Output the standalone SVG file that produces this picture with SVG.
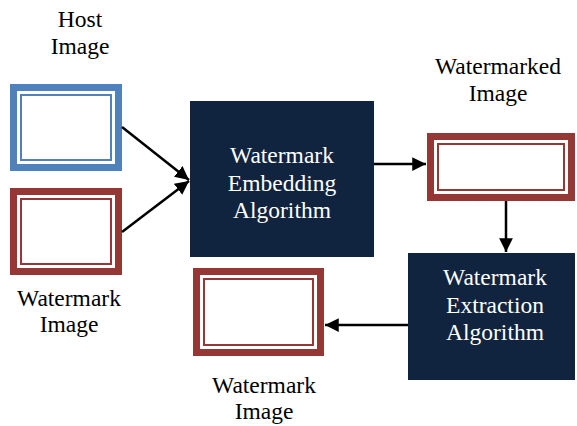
<svg xmlns="http://www.w3.org/2000/svg" width="577" height="426" viewBox="0 0 577 426">
  <defs>
    <marker id="arrow" viewBox="0 0 10 10" refX="10" refY="5" markerWidth="5.5" markerHeight="5.5" orient="auto" markerUnits="strokeWidth">
      <path d="M0,0 L10,5 L0,10 z" fill="#000"/>
    </marker>
  </defs>
  <style>
    text { font-family: 'Liberation Serif', 'Times New Roman', Tinos, 'DejaVu Serif', serif; font-size: 23.5px; text-anchor: middle; }
    .lbl { fill: #000; }
    .alg { fill: #fff; }
    .alg-box { fill: #10243f; }
    .blue { fill: #4f81bd; }
    .red { fill: #953735; }
    .gap { fill: #fff; }
    .inner-blue { fill: #fff; stroke: #4f81bd; stroke-width: 2; }
    .inner-red { fill: #fff; stroke: #953735; stroke-width: 2; }
    .conn { stroke: #000; stroke-width: 2.5; fill: none; marker-end: url(#arrow); }
  </style>

  <!-- Host image -->
  <g id="host-image">
    <rect class="blue" x="10" y="84" width="112" height="87"/>
    <rect class="gap" x="17" y="91" width="98" height="73"/>
    <rect class="inner-blue" x="21" y="95" width="90" height="65"/>
    <text class="lbl" x="80" y="27">Host</text>
    <text class="lbl" x="80" y="54">Image</text>
  </g>

  <!-- Watermark image (input) -->
  <g id="watermark-image-in">
    <rect class="red" x="10" y="188" width="112" height="87"/>
    <rect class="gap" x="17" y="195" width="98" height="73"/>
    <rect class="inner-red" x="21" y="199" width="90" height="65"/>
    <text class="lbl" x="69" y="306">Watermark</text>
    <text class="lbl" x="69" y="332">Image</text>
  </g>

  <!-- Embedding algorithm -->
  <g id="embedding">
    <rect class="alg-box" x="190" y="101" width="184" height="156"/>
    <text class="alg" x="282" y="163">Watermark</text>
    <text class="alg" x="282" y="190.5">Embedding</text>
    <text class="alg" x="282" y="218">Algorithm</text>
  </g>

  <!-- Watermarked image -->
  <g id="watermarked-image">
    <rect class="red" x="427" y="133" width="148" height="68"/>
    <rect class="gap" x="434" y="140" width="134" height="54"/>
    <rect class="inner-red" x="438" y="144" width="126" height="46"/>
    <text class="lbl" x="498" y="74">Watermarked</text>
    <text class="lbl" x="498" y="101">Image</text>
  </g>

  <!-- Extraction algorithm -->
  <g id="extraction">
    <rect class="alg-box" x="408" y="253" width="167" height="127"/>
    <text class="alg" x="495" y="285">Watermark</text>
    <text class="alg" x="495" y="312.5">Extraction</text>
    <text class="alg" x="495" y="340">Algorithm</text>
  </g>

  <!-- Watermark image (output) -->
  <g id="watermark-image-out">
    <rect class="red" x="193" y="268" width="131" height="88"/>
    <rect class="gap" x="200" y="275" width="117" height="74"/>
    <rect class="inner-red" x="204" y="279" width="109" height="66"/>
    <text class="lbl" x="264" y="393">Watermark</text>
    <text class="lbl" x="264" y="419">Image</text>
  </g>

  <!-- Connectors -->
  <g id="connectors">
    <line class="conn" x1="122" y1="127" x2="189" y2="180"/>
    <line class="conn" x1="122" y1="232" x2="189" y2="181"/>
    <line class="conn" x1="374" y1="164" x2="426" y2="164"/>
    <line class="conn" x1="506" y1="201" x2="506" y2="252"/>
    <line class="conn" x1="408" y1="325" x2="325" y2="325"/>
  </g>
</svg>
